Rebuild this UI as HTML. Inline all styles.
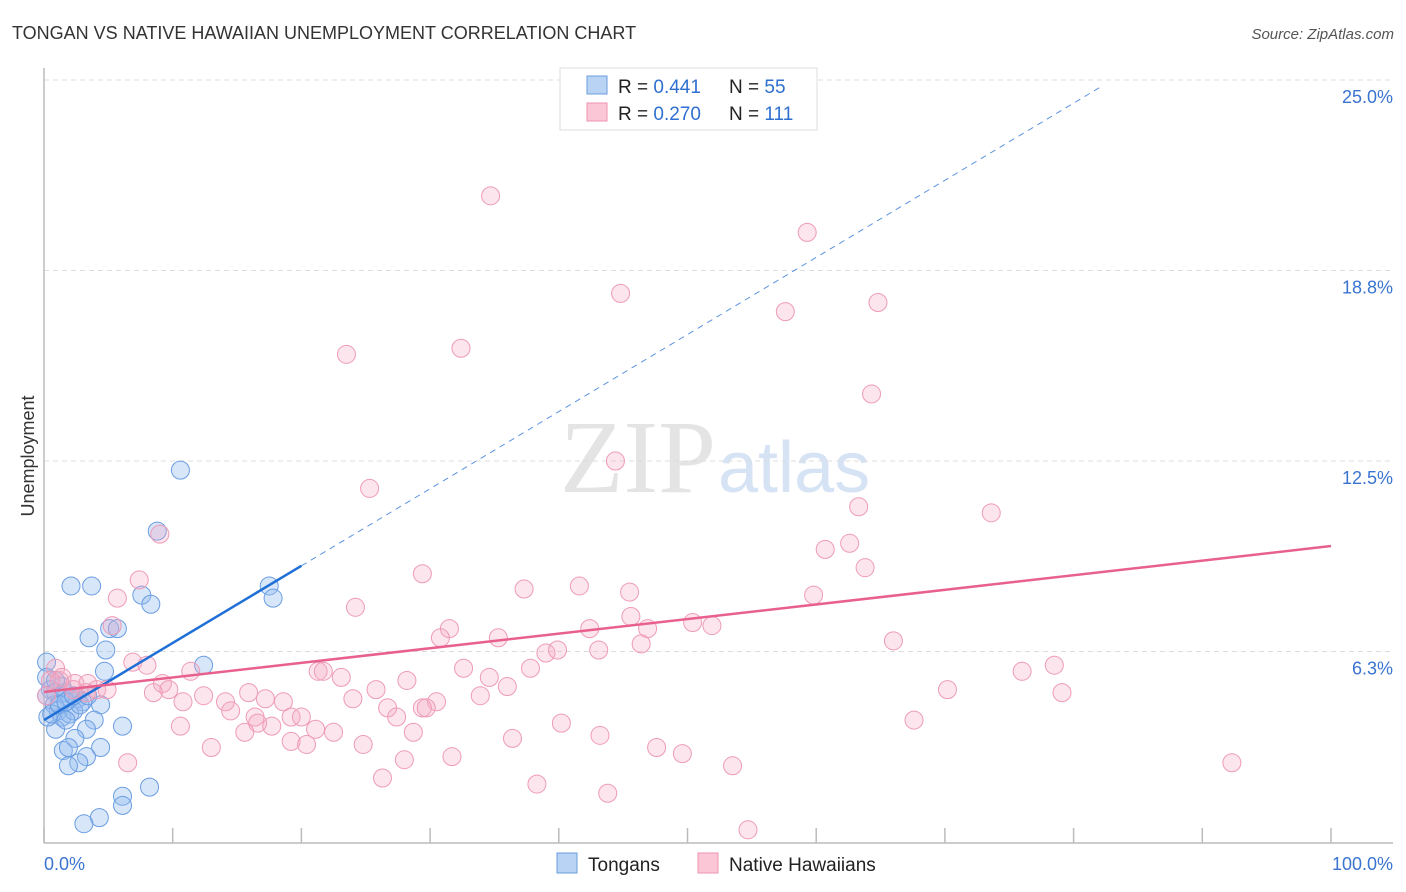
<!DOCTYPE html>
<html><head><meta charset="utf-8"><style>
body{margin:0;background:#fff;font-family:"Liberation Sans",sans-serif}
svg{display:block}
</style></head><body>
<svg id="c" width="1406" height="892" xmlns="http://www.w3.org/2000/svg">
<text x="12" y="39" font-size="18" fill="#333">TONGAN VS NATIVE HAWAIIAN UNEMPLOYMENT CORRELATION CHART</text>
<text x="1394" y="39" font-size="15" fill="#555" font-style="italic" text-anchor="end">Source: ZipAtlas.com</text>
<text x="34" y="456" font-size="18" fill="#333" text-anchor="middle" transform="rotate(-90 34 456)">Unemployment</text>
<text x="716" y="492" font-size="104" fill="#e4e4e4" text-anchor="end" font-family="Liberation Serif,serif">ZIP</text>
<text x="718" y="492" font-size="72" fill="#d6e3f4">atlas</text>
<g id="grid"></g><g id="axes"></g><g id="pts"></g><g id="lines"></g>
<g>
<rect x="560" y="68" width="257" height="62" fill="#fff" stroke="#ddd"/>
<rect x="587" y="76" width="20" height="18" fill="#b9d3f5" stroke="#6a9de0"/>
<rect x="587" y="103" width="20" height="18" fill="#fbc7d6" stroke="#ec93b0"/>
<text x="618" y="93" font-size="19" fill="#222">R = <tspan fill="#2f6fd0">0.441</tspan><tspan x="729">N = </tspan><tspan fill="#2f6fd0">55</tspan></text>
<text x="618" y="120" font-size="19" fill="#222">R = <tspan fill="#2f6fd0">0.270</tspan><tspan x="729">N = </tspan><tspan fill="#2f6fd0">111</tspan></text>
</g>
<g>
<rect x="557" y="853" width="20" height="20" fill="#b9d3f5" stroke="#6a9de0"/>
<text x="588" y="871" font-size="19" fill="#222">Tongans</text>
<rect x="698" y="853" width="20" height="20" fill="#fbc7d6" stroke="#ec93b0"/>
<text x="729" y="871" font-size="19" fill="#222">Native Hawaiians</text>
</g>
</svg>
<script>
const blueX=[10.6,8.8,2.1,3.7,7.6,8.3,17.5,17.8,5.1,5.7,3.5,4.8,4.7,12.4,0.2,0.2,0.5,0.9,1.4,1.6,2.0,2.6,3.0,0.8,1.1,1.4,2.0,2.3,2.8,4.4,3.9,6.1,0.9,3.3,2.4,1.5,1.9,4.4,3.3,2.7,1.9,8.2,6.1,6.1,4.3,3.1,0.3,0.6,0.2,1.2,1.7,2.3,0.9,1.7,3.4];
const blueY=[12.2,10.2,8.4,8.4,8.1,7.8,8.4,8.0,7.0,7.0,6.7,6.3,5.6,5.8,5.9,5.4,5.0,4.9,5.1,4.9,4.7,4.7,4.6,4.5,4.3,4.1,4.2,4.3,4.5,4.5,4.0,3.8,3.7,3.7,3.4,3.0,3.1,3.1,2.8,2.6,2.5,1.8,1.5,1.2,0.8,0.6,4.1,4.2,4.8,4.5,4.6,4.8,5.3,4.0,4.8];
const pinkX=[34.7,59.3,44.8,57.6,64.8,23.5,32.4,64.3,44.4,25.3,63.3,73.6,9.0,60.7,62.6,63.8,29.4,7.4,37.3,41.6,45.5,5.7,59.8,24.2,45.6,5.3,31.5,42.4,46.9,50.4,51.9,30.8,35.3,46.4,66.0,39.0,39.9,43.1,6.9,8.0,11.4,21.3,21.7,23.1,32.6,34.6,37.8,76.0,78.5,2.4,3.4,4.1,4.9,9.2,9.7,8.5,10.8,12.4,14.1,15.9,17.2,18.6,24.0,25.8,28.2,30.5,29.4,33.9,36.0,70.2,79.1,14.5,16.4,16.6,17.7,19.2,20.0,21.1,22.5,26.7,27.4,28.7,29.7,10.6,15.6,40.2,67.6,36.4,43.2,47.6,49.6,24.8,19.2,20.4,13.0,28.0,31.7,6.5,53.5,92.3,26.3,38.3,43.8,54.7,0.9,1.2,1.4,2.3,3.3,0.5,0.2];
const pinkY=[21.2,20.0,18.0,17.4,17.7,16.0,16.2,14.7,12.5,11.6,11.0,10.8,10.1,9.6,9.8,9.0,8.8,8.6,8.3,8.4,8.2,8.0,8.1,7.7,7.4,7.1,7.0,7.0,7.0,7.2,7.1,6.7,6.7,6.5,6.6,6.2,6.3,6.3,5.9,5.8,5.6,5.6,5.6,5.4,5.7,5.4,5.7,5.6,5.8,5.2,5.2,5.0,5.0,5.2,5.0,4.9,4.6,4.8,4.6,4.9,4.7,4.6,4.7,5.0,5.3,4.6,4.4,4.8,5.1,5.0,4.9,4.3,4.1,3.9,3.8,4.1,4.1,3.7,3.6,4.4,4.1,3.6,4.4,3.8,3.6,3.9,4.0,3.4,3.5,3.1,2.9,3.2,3.3,3.2,3.1,2.7,2.8,2.6,2.5,2.6,2.1,1.9,1.6,0.4,5.7,5.3,5.4,5.0,4.9,5.3,4.8];
const yTicks=[6.25,12.5,18.75,25];
const yTickLabels=["6.3%","12.5%","18.8%","25.0%"];
const xTicks=[0,10,20,30,40,50,60,70,80,90,100];
const blueTrend=[4.0,0.253];   // intercept, slope
const pinkTrend=[4.92,0.0479];

const NS="http://www.w3.org/2000/svg";
const X0=44,X1=1331,Y0=842,Y1=80;
const sx=v=>X0+(X1-X0)*v/100;
const sy=v=>Y0-(Y0-Y1)*v/25;
function mk(tag,attrs,parent){const e=document.createElementNS(NS,tag);for(const k in attrs)e.setAttribute(k,attrs[k]);document.getElementById(parent).appendChild(e);return e;}
yTicks.forEach((t,i)=>{
  const l=mk('line',{x1:X0,x2:1393,y1:sy(t),y2:sy(t),stroke:'#ddd','stroke-dasharray':'5,4'},'grid');
  
  
  const tx=mk('text',{x:1393,y:sy(t)+23,'font-size':18,fill:'#3a74d0','text-anchor':'end'},'grid');
  tx.textContent=yTickLabels[i];
  
  
});
let a=mk('line',{x1:X0,x2:X0,y1:68,y2:843,stroke:'#bbb','stroke-width':1.5},'axes');


a=mk('line',{x1:X0,x2:1393,y1:843,y2:843,stroke:'#bbb','stroke-width':1.5},'axes');


xTicks.forEach(t=>{
  const l=mk('line',{x1:sx(t),x2:sx(t),y1:828,y2:843,stroke:'#bbb','stroke-width':1.5},'axes');
  
  
});
let t=mk('text',{x:44,y:870,'font-size':18,fill:'#3a74d0'},'axes');t.textContent='0.0%';


t=mk('text',{x:1393,y:870,'font-size':18,fill:'#3a74d0','text-anchor':'end'},'axes');t.textContent='100.0%';


blueX.forEach((x,i)=>{
  const c=mk('circle',{cx:sx(x),cy:sy(blueY[i]),r:9,fill:'rgba(150,190,240,0.38)',stroke:'#6a9de2','stroke-width':1},'pts');
  
  
});
pinkX.forEach((x,i)=>{
  const c=mk('circle',{cx:sx(x),cy:sy(pinkY[i]),r:9,fill:'rgba(245,170,195,0.3)',stroke:'#ee9bb7','stroke-width':1},'pts');
  
  
});
const bf=x=>blueTrend[0]+blueTrend[1]*x, pf=x=>pinkTrend[0]+pinkTrend[1]*x;
let L=mk('line',{x1:sx(20),y1:sy(bf(20)),x2:sx(82),y2:sy(bf(82)),stroke:'#5b94e0','stroke-width':1,'stroke-dasharray':'6,5'},'lines');


L=mk('line',{x1:sx(0),y1:sy(bf(0)),x2:sx(20),y2:sy(bf(20)),stroke:'#1f6fd6','stroke-width':2.5},'lines');


L=mk('line',{x1:sx(0),y1:sy(pf(0)),x2:sx(100),y2:sy(pf(100)),stroke:'#e8608d','stroke-width':2.5},'lines');


</script>
</body></html>
